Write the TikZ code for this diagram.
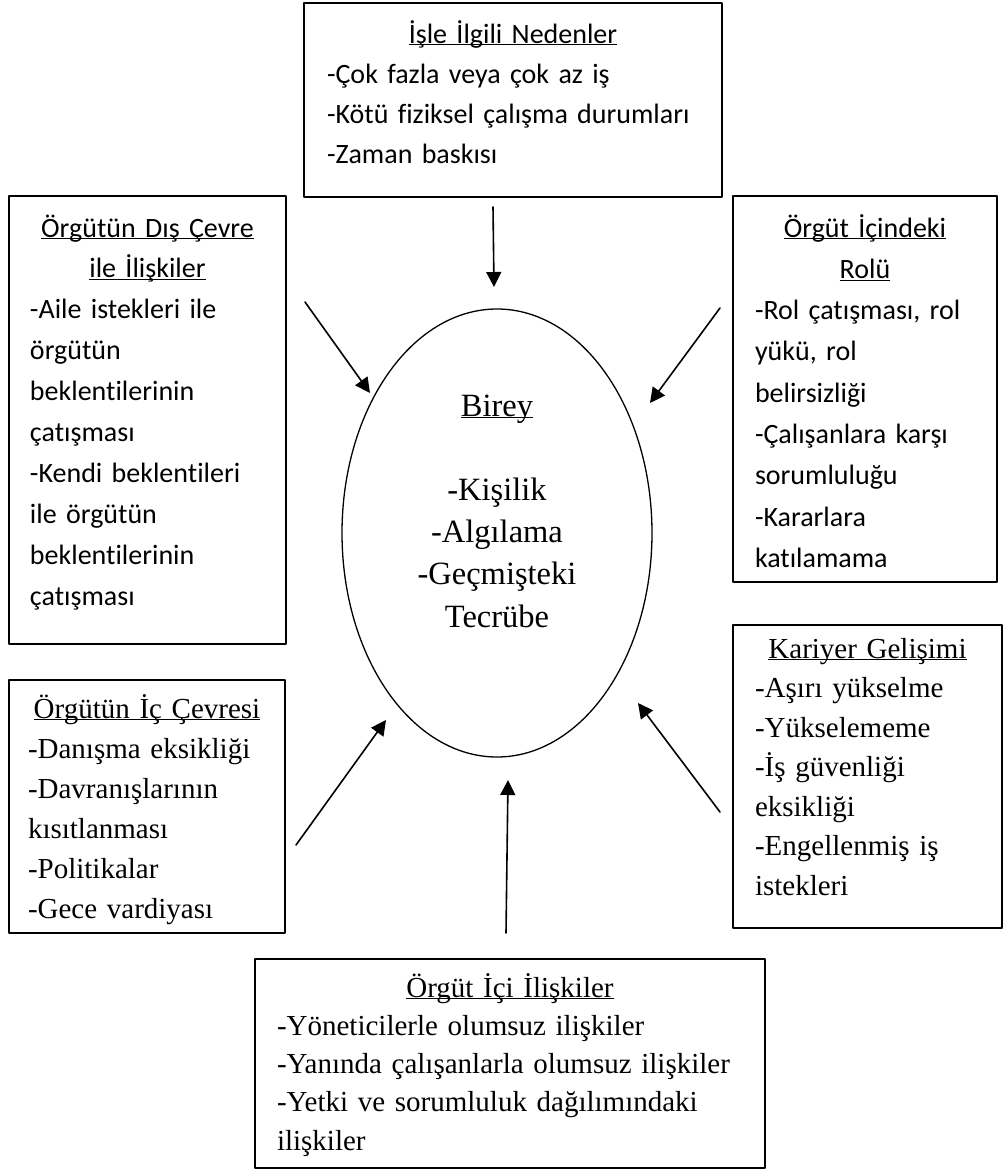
\documentclass[tikz,border=0pt]{standalone}
\usepackage{fontspec}
\setmainfont{Liberation Serif}[Ligatures=NoCommon]
\newfontfamily\calibrifont{Carlito}[Ligatures=NoCommon]
\usetikzlibrary{arrows.meta,shapes.geometric}
\tikzset{
  every picture/.append style={line cap=round,line join=round},
  stres box/.style={draw,line width=1.3pt,inner sep=0pt,align=left},
  stres sans/.style={font=\calibrifont\fontsize{28}{#1}\selectfont},
  stres serif/.style={font=\fontsize{29}{#1}\selectfont},
  stres ellipse/.style={draw,ellipse,line width=1.3pt,inner sep=0pt,minimum width=310pt,minimum height=448pt},
  stres label/.style={align=center,font=\fontsize{32.5}{42.2}\selectfont},
  stres arrow/.style={line width=1.6pt,-{Triangle[length=15pt,width=15pt]}}
}
\hyphenpenalty=10000
\newcommand{\ul}[1]{\underline{\raisebox{0pt}[\height][0pt]{#1}}}
\newcommand{\boxtitle}[1]{{\centering\ul{#1}\par}}

\begin{document}
\begin{tikzpicture}[x=1pt,y=-1pt]
\useasboundingbox (0,0) rectangle (1004,1171);
% causes around the individual
\node[stres box,stres sans=40pt,text width=372pt,minimum width=418pt,
  text height=40pt,text depth=154pt] (isle) at (513,100) {%
  \boxtitle{İşle İlgili Nedenler}
  -Çok fazla veya çok az iş\\
  -Kötü fiziksel çalışma durumları\\
  -Zaman baskısı};
\node[stres box,stres sans=40.9pt,text width=235pt,minimum width=277pt,
  text height=41pt,text depth=407pt] (dis) at (147.5,420) {%
  \boxtitle{Örgütün Dış Çevre}
  \boxtitle{ile İlişkiler}
  -Aile istekleri ile\\
  örgütün\\
  beklentilerinin\\
  çatışması\\
  -Kendi beklentileri\\
  ile örgütün\\
  beklentilerinin\\
  çatışması};
\node[stres box,stres sans=41.3pt,text width=220pt,minimum width=264pt,
  text height=41pt,text depth=345pt] (rol) at (865,389) {%
  \boxtitle{Örgüt İçindeki}
  \boxtitle{Rolü}
  -Rol çatışması, rol\\
  yükü, rol\\
  belirsizliği\\
  -Çalışanlara karşı\\
  sorumluluğu\\
  -Kararlara\\
  katılamama};
\node[stres box,stres serif=40pt,text width=238pt,minimum width=276pt,
  text height=38pt,text depth=215pt] (ic) at (147,806.5) {%
  \boxtitle{Örgütün İç Çevresi}
  -Danışma eksikliği\\
  -Davranışlarının\\
  kısıtlanması\\
  -Politikalar\\
  -Gece vardiyası};
\node[stres box,stres serif=39.5pt,text width=225pt,minimum width=269pt,
  text height=33pt,text depth=270pt] (kariyer) at (867.5,776.5) {%
  \boxtitle{Kariyer Gelişimi}
  -Aşırı yükselme\\
  -Yükselememe\\
  -İş güvenliği\\
  eksikliği\\
  -Engellenmiş iş\\
  istekleri};
\node[stres box,stres serif=38.3pt,text width=466pt,minimum width=510pt,
  text height=38pt,text depth=171pt] (ici) at (510,1063.5) {%
  \boxtitle{Örgüt İçi İlişkiler}
  -Yöneticilerle olumsuz ilişkiler\\
  -Yanında çalışanlarla olumsuz ilişkiler\\
  -Yetki ve sorumluluk dağılımındaki\\
  ilişkiler};
% the individual
\node[stres ellipse] (birey) at (497,533) {};
\node[stres label] (birey text) at (497,511)
  {\ul{Birey}\\[42.2pt]-Kişilik\\-Algılama\\-Geçmişteki\\Tecrübe};
% arrows
\coordinate (isle-a) at (493,207);    \coordinate (isle-b) at (494,287);
\coordinate (dis-a) at (305,302);     \coordinate (dis-b) at (370,393);
\coordinate (rol-a) at (720,308);     \coordinate (rol-b) at (650,403);
\coordinate (ic-a) at (296,845);      \coordinate (ic-b) at (386,720);
\coordinate (ici-a) at (506,933);     \coordinate (ici-b) at (508,780);
\coordinate (kariyer-a) at (720,812); \coordinate (kariyer-b) at (638,703);
\foreach \n in {isle,dis,rol,ic,ici,kariyer}
  \draw[stres arrow] (\n-a) -- (\n-b);
\end{tikzpicture}
\end{document}
